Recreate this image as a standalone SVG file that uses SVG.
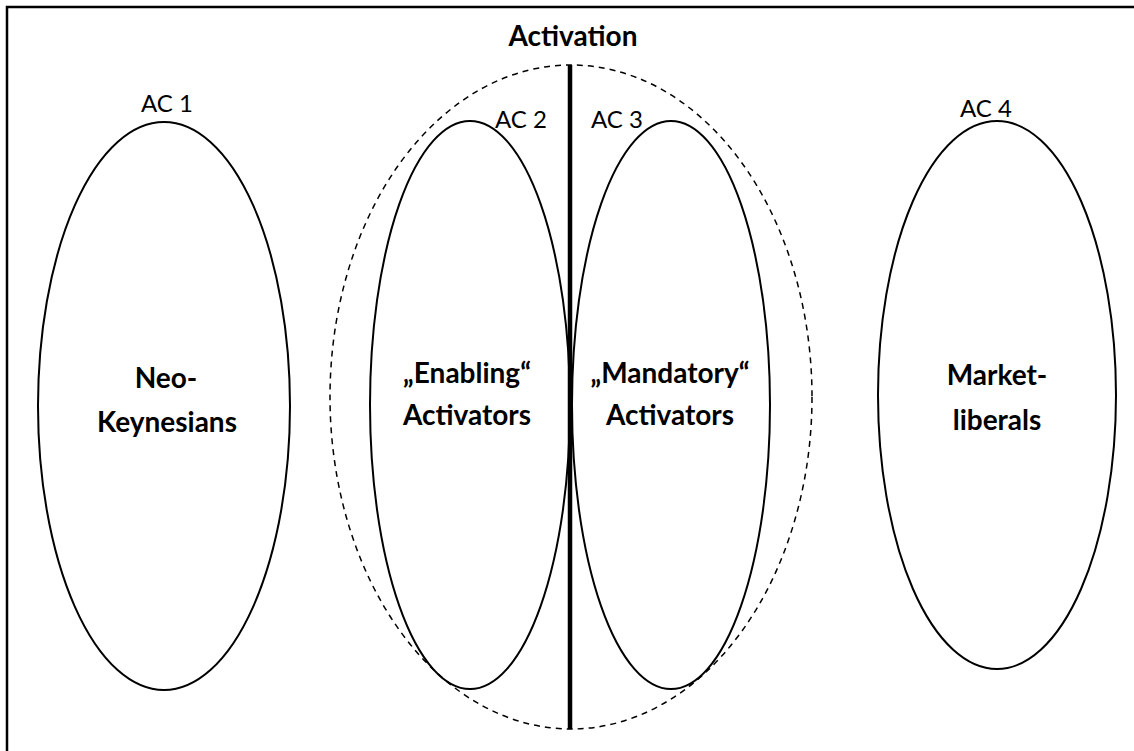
<svg xmlns="http://www.w3.org/2000/svg" width="1134" height="751" viewBox="0 0 1134 751">
<style>
.e{fill:none;stroke:#000;stroke-width:2}
.d{fill:none;stroke:#000;stroke-width:1.5;stroke-dasharray:6 5}
.lab{font-family:Lato,"Open Sans",sans-serif;font-size:24px;text-anchor:middle;fill:#000}
.b{font-family:Lato,"Open Sans",sans-serif;font-size:28px;font-weight:bold;text-anchor:middle;fill:#000}
</style>
<rect width="1134" height="751" fill="#fff"/>
<path d="M7 751V7H1134" fill="none" stroke="#000" stroke-width="2.5"/>
<g id="activation">
<ellipse class="d" cx="571" cy="397" rx="241" ry="332"/>
<text class="b" x="573" y="46">Activation</text>
</g>
<g id="ac1">
<ellipse class="e" cx="164" cy="406" rx="126" ry="284"/>
<text class="lab" x="167" y="112">AC 1</text>
<text class="b" x="166" y="388">Neo-</text>
<text class="b" x="167" y="432">Keynesians</text>
</g>
<g id="ac2">
<ellipse class="e" cx="470" cy="405" rx="100" ry="284"/>
<text class="lab" x="521" y="128">AC 2</text>
<text class="b" x="467" y="383">„Enabling“</text>
<text class="b" x="467" y="425">Activators</text>
</g>
<g id="ac3">
<ellipse class="e" cx="671" cy="405" rx="99" ry="284"/>
<text class="lab" x="617" y="128">AC 3</text>
<text class="b" x="670" y="383">„Mandatory“</text>
<text class="b" x="670" y="425">Activators</text>
</g>
<g id="ac4">
<ellipse class="e" cx="997" cy="395" rx="119" ry="274"/>
<text class="lab" x="986" y="117">AC 4</text>
<text class="b" x="997" y="385">Market-</text>
<text class="b" x="997" y="430">liberals</text>
</g>
<g id="connectors">
<line x1="570" y1="65" x2="570" y2="729" stroke="#000" stroke-width="4.5"/>
</g>
</svg>
